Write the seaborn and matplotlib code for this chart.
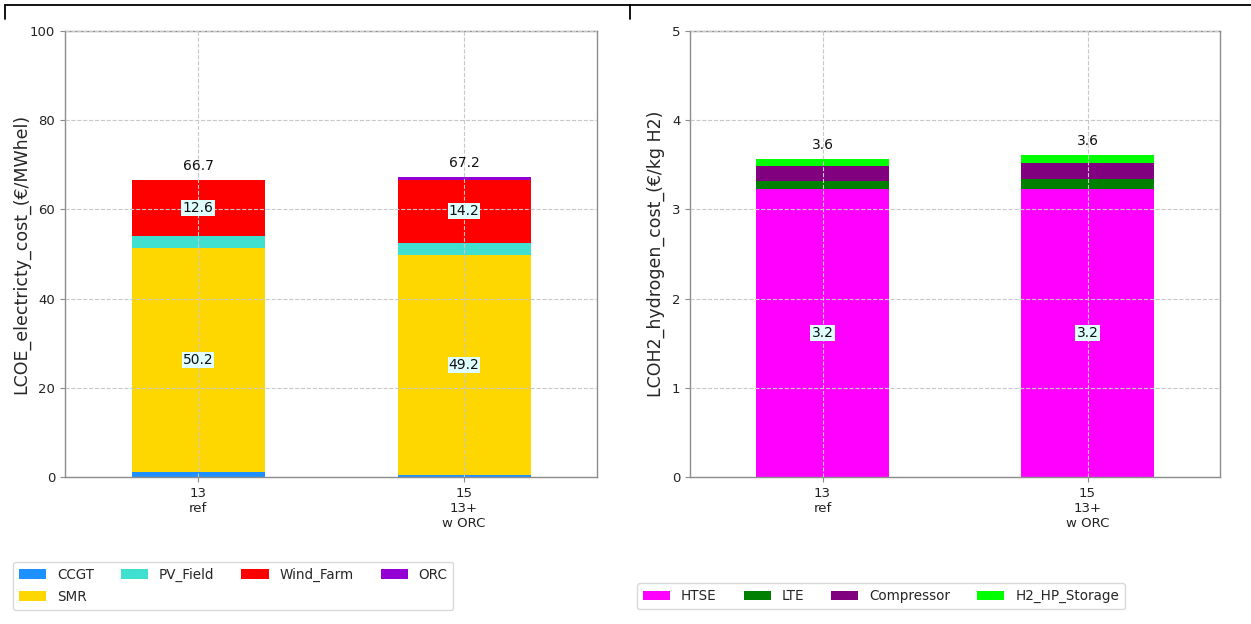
import matplotlib
matplotlib.use("Agg")
import matplotlib.pyplot as plt
from matplotlib.lines import Line2D
import numpy as np
import pandas as pd
import seaborn as sns

# Scenario labels shown on the category axis
scenarios = ["13\nref", "15\n13+\nw ORC"]

# Electricity cost breakdown (€/MWhel), stacked bottom to top
elec_techs = ["CCGT", "SMR", "PV_Field", "Wind_Farm", "ORC"]
elec_colors = ["#1E90FF", "#FFD700", "#40E0D0", "#FF0000", "#9400D3"]
ccgt = [1.2, 0.5]
smr = [50.2, 49.2]
pv_field = [2.7, 2.8]
wind_farm = [12.6, 14.2]
orc = [0.0, 0.5]

# Hydrogen cost breakdown (€/kg H2), stacked bottom to top
h2_techs = ["HTSE", "LTE", "Compressor", "H2_HP_Storage"]
h2_colors = ["#FF00FF", "#008000", "#800080", "#00FF00"]
htse = [3.225, 3.23]
lte = [0.09, 0.11]
compressor = [0.17, 0.175]
h2_hp_storage = [0.08, 0.10]

sns.set_style("whitegrid", {
    "grid.linestyle": "--",
    "grid.color": "#c8c8c8",
    "axes.edgecolor": "#8c8c8c",
    "xtick.bottom": True,
    "ytick.left": True,
    "xtick.color": "#222222",
    "ytick.color": "#222222",
})
plt.rcParams["font.family"] = ["DejaVu Sans"]

fig = plt.figure(figsize=(12.51, 6.24), dpi=100)
W, H = 1251, 624
ax1 = fig.add_axes([65 / W, 1 - 477 / H, 532 / W, 446 / H])
ax2 = fig.add_axes([690 / W, 1 - 477 / H, 530 / W, 446 / H])


def stacked(ax, names, colors, series, ymax, ylabel, label_x, legend_anchor):
    df = pd.DataFrame({"scenario": scenarios})
    bottom = np.zeros(len(scenarios))
    totals = np.sum(series, axis=0)
    for name, color, vals in zip(names, colors, series):
        vals = np.asarray(vals, dtype=float)
        df["value"] = vals
        sns.barplot(data=df, x="scenario", y="value", bottom=bottom,
                    color=color, width=0.5, label=name, ax=ax,
                    saturation=1, linewidth=0, errorbar=None)
        for i, v in enumerate(vals):
            if v >= 0.1 * totals[i]:
                ax.text(i, bottom[i] + v / 2, f"{v:.1f}", ha="center",
                        va="center", fontsize=10, color="#111111",
                        bbox=dict(facecolor="#e0ffff", edgecolor="none",
                                  pad=0.8))
        bottom = bottom + vals
    for i, t in enumerate(totals):
        ax.annotate(f"{t:.1f}", (i, t), xytext=(0, 5),
                    textcoords="offset points", ha="center", va="bottom",
                    fontsize=10, color="#111111")
    ax.set_ylim(0, ymax)
    ax.set_xlim(-0.5, 1.5)
    ax.set_axisbelow(False)
    ax.grid(True, linestyle="--", color="#c8c8c8", linewidth=0.8)
    ax.set_xlabel("")
    ax.set_ylabel(ylabel, fontsize=12.5)
    ax.yaxis.set_label_coords(label_x, 0.5)
    ax.tick_params(axis="both", labelsize=9.5, length=3.5,
                   color="#8c8c8c")
    for s in ax.spines.values():
        s.set_color("#8c8c8c")
        s.set_linewidth(1.0)
    ax.legend(loc="upper left", bbox_to_anchor=legend_anchor,
              borderaxespad=0, ncol=4, fontsize=9.75, frameon=True,
              edgecolor="#d0d0d0", borderpad=0.45, labelspacing=0.6)


stacked(ax1, elec_techs, elec_colors,
        [ccgt, smr, pv_field, wind_farm, orc], 100,
        "LCOE_electricty_cost_(€/MWhel)", -0.066, (-0.098, -0.19))
stacked(ax2, h2_techs, h2_colors,
        [htse, lte, compressor, h2_hp_storage], 5,
        "LCOH2_hydrogen_cost_(€/kg H2)", -0.047, (-0.1, -0.238))

# Thin frame lines along the top edge of the figure
ytop = 1 - 4.5 / H
fig.add_artist(Line2D([5 / W, 1.0], [ytop, ytop], transform=fig.transFigure,
                      color="black", lw=1.3))
for xv in (5 / W, 630 / W):
    fig.add_artist(Line2D([xv, xv], [ytop, 1 - 19 / H],
                          transform=fig.transFigure, color="black", lw=1.3))

fig.savefig("out.png", dpi=100)
